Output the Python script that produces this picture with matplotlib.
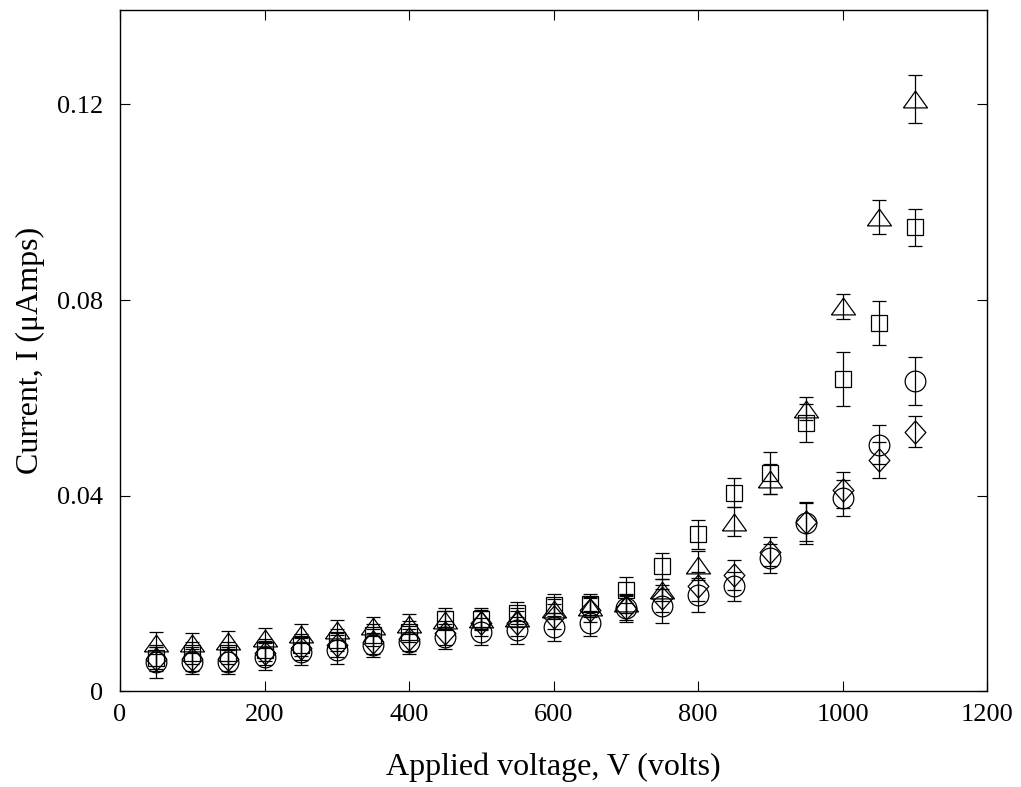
import matplotlib
matplotlib.use("Agg")
import matplotlib.pyplot as plt
import numpy as np

plt.rcParams['font.family'] = ['Liberation Serif', 'DejaVu Serif']

# applied voltage (volts)
volts = [50, 100, 150, 200, 250, 300, 350, 400, 450, 500, 550,
         600, 650, 700, 750, 800, 850, 900, 950, 1000, 1050, 1100]

# current (uA) and error for each of the four runs
tri_i = [0.0099, 0.0099, 0.0104, 0.0109, 0.0118, 0.0126, 0.0133, 0.0138, 0.0145, 0.0147, 0.0151,
         0.0169, 0.0172, 0.0180, 0.0207, 0.0258, 0.0347, 0.0434, 0.0578, 0.0787, 0.0970, 0.1212]
tri_e = [0.0022, 0.0020, 0.0020, 0.0020, 0.0020, 0.0020, 0.0020, 0.0020, 0.0020, 0.0020, 0.0020,
         0.0020, 0.0020, 0.0020, 0.0022, 0.0030, 0.0030, 0.0030, 0.0024, 0.0026, 0.0034, 0.0049]

sq_i = [0.0068, 0.0078, 0.0078, 0.0085, 0.0095, 0.0105, 0.0115, 0.0122, 0.0149, 0.0148, 0.0160,
        0.0177, 0.0178, 0.0207, 0.0256, 0.0321, 0.0406, 0.0446, 0.0548, 0.0638, 0.0754, 0.0949]
sq_e = [0.0022, 0.0022, 0.0022, 0.0022, 0.0022, 0.0022, 0.0022, 0.0022, 0.0022, 0.0022, 0.0022,
        0.0022, 0.0022, 0.0027, 0.0027, 0.0030, 0.0030, 0.0043, 0.0039, 0.0055, 0.0045, 0.0038]

circ_i = [0.0061, 0.0061, 0.0061, 0.0071, 0.0081, 0.0085, 0.0095, 0.0102, 0.0112, 0.0122, 0.0125,
          0.0132, 0.0139, 0.0170, 0.0175, 0.0197, 0.0215, 0.0272, 0.0344, 0.0395, 0.0504, 0.0634]
circ_e = [0.0034, 0.0025, 0.0025, 0.0028, 0.0028, 0.0030, 0.0025, 0.0025, 0.0025, 0.0028, 0.0028,
          0.0028, 0.0025, 0.0028, 0.0035, 0.0035, 0.0030, 0.0030, 0.0042, 0.0037, 0.0040, 0.0049]

dia_i = [0.0066, 0.0066, 0.0066, 0.0078, 0.0089, 0.0095, 0.0102, 0.0108, 0.0119, 0.0139, 0.0139,
         0.0153, 0.0166, 0.0170, 0.0190, 0.0215, 0.0238, 0.0286, 0.0347, 0.0412, 0.0473, 0.0531]
dia_e = [0.0025, 0.0025, 0.0025, 0.0025, 0.0025, 0.0025, 0.0025, 0.0025, 0.0025, 0.0025, 0.0025,
         0.0025, 0.0025, 0.0025, 0.0028, 0.0030, 0.0030, 0.0030, 0.0040, 0.0037, 0.0037, 0.0032]

xticks = [0, 200, 400, 600, 800, 1000, 1200]
yticks = [0, 0.04, 0.08, 0.12]
ytick_labels = ['0', '0.04', '0.08', '0.12']

# marker shapes like the matlab ones (wide triangle, tall diamond)
tri_marker = [(-1, -0.7), (1, -0.7), (0, 0.7), (-1, -0.7)]
dia_marker = [(0, 1), (0.9, 0), (0, -1), (-0.9, 0), (0, 1)]

fig = plt.figure(figsize=(10.21, 7.87), dpi=100)
ax = fig.add_axes([120 / 1021, 95.6 / 787, 867 / 1021, 681.4 / 787])

style = dict(fmt='none', ecolor='black', elinewidth=0.9, capsize=5.3, capthick=0.9)
mstyle = dict(linestyle='none', color='black', markerfacecolor='none', markeredgewidth=0.9)

series = [
    (circ_i, circ_e, 'o', 14.9),
    (dia_i, dia_e, dia_marker, 16.6),
    (sq_i, sq_e, 's', 12.2),
    (tri_i, tri_e, tri_marker, 17.3),
]
for vals, errs, mk, ms in series:
    ax.errorbar(volts, vals, yerr=errs, **style)
    ax.plot(volts, vals, marker=mk, markersize=ms, **mstyle)

ax.set_xlim(0, 1200)
ax.set_ylim(0, 0.1393)
ax.set_xticks(xticks)
ax.set_yticks(yticks)
ax.set_yticklabels(ytick_labels)
ax.tick_params(direction='in', length=7, width=0.8, labelsize=19,
               top=True, right=True)
ax.tick_params(axis='x', pad=9)
ax.tick_params(axis='y', pad=12)
for sp in ax.spines.values():
    sp.set_linewidth(1.0)

ax.set_xlabel('Applied voltage, V (volts)', fontsize=23, labelpad=19)
ax.set_ylabel('Current, I (\u03bcAmps)', fontsize=23, labelpad=9)

fig.savefig('out.png', dpi=100)
